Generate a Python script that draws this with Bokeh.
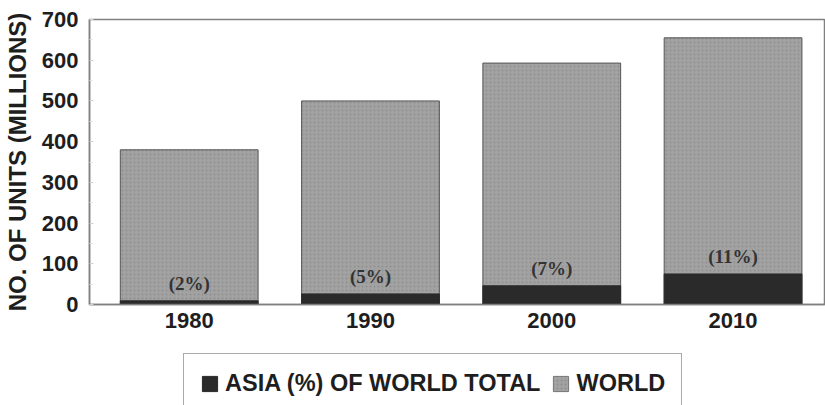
from bokeh.plotting import figure
from bokeh.models import ColumnDataSource, Legend, LegendItem, FixedTicker, Range1d
from bokeh.layouts import column
from bokeh.core.properties import value
from bokeh.embed import file_html
from bokeh.resources import INLINE

years = [1980, 1990, 2000, 2010]
world = [380, 500, 593, 655]
asia = [9, 26, 46, 75]
pct_labels = ["(2%)", "(5%)", "(7%)", "(11%)"]
y_ticks = [0, 100, 200, 300, 400, 500, 600, 700]
legend_labels = ["ASIA (%) OF WORLD TOTAL", "WORLD"]

WORLD_COLOR = "#a2a2a2"
ASIA_COLOR = "#2a2a2a"

src = ColumnDataSource(dict(x=years, world=world, asia=asia, lab=pct_labels))

p = figure(width=825, height=340, output_backend="svg", toolbar_location=None,
           x_range=Range1d(1974.5, 2015.1), y_range=Range1d(0, 700),
           min_border_left=86, min_border_top=19, min_border_right=0, min_border_bottom=36)

p.grid.visible = False
p.outline_line_color = "#808080"
p.outline_line_width = 1.5
p.background_fill_color = "white"
p.border_fill_color = "white"

rw = p.vbar(x="x", top="world", bottom=0, width=7.6, source=src,
            fill_color=WORLD_COLOR, line_color="#555555", line_width=1,
            hatch_pattern="dot", hatch_color="#7a7a7a", hatch_alpha=0.5, hatch_scale=4)
ra = p.vbar(x="x", top="asia", bottom=0, width=7.6, source=src,
            fill_color=ASIA_COLOR, line_color=ASIA_COLOR, line_width=1)

p.text(x="x", y="asia", text="lab", source=src, y_offset=-17,
       text_align="center", text_baseline="middle",
       text_font=value("Liberation Serif"), text_font_style="bold",
       text_font_size="19px", text_color="#333333")

# y axis
p.yaxis.ticker = FixedTicker(ticks=y_ticks, minor_ticks=[50, 150, 250, 350, 450, 550, 650])
p.yaxis.axis_label = "NO. OF UNITS (MILLIONS)"
p.yaxis.axis_label_text_font = "Liberation Sans"
p.yaxis.axis_label_text_font_style = "bold"
p.yaxis.axis_label_text_font_size = "24px"
p.yaxis.axis_label_text_color = "#1e1e1e"
p.yaxis.axis_label_standoff = 8
p.yaxis.major_label_text_font = "Liberation Sans"
p.yaxis.major_label_text_font_style = "bold"
p.yaxis.major_label_text_font_size = "22px"
p.yaxis.major_label_text_color = "#1e1e1e"
p.yaxis.major_label_standoff = 11
p.yaxis.major_tick_in = 4
p.yaxis.major_tick_out = 0
p.yaxis.minor_tick_in = 3
p.yaxis.minor_tick_out = 0
p.yaxis.major_tick_line_color = "#d0d0d0"
p.yaxis.minor_tick_line_color = "#e0e0e0"
p.yaxis.axis_line_color = "#808080"
p.yaxis.axis_line_width = 1.5

# x axis
p.xaxis.ticker = FixedTicker(ticks=years)
p.xaxis.major_label_overrides = {y: str(y) for y in years}
p.xaxis.major_label_text_font = "Liberation Sans"
p.xaxis.major_label_text_font_style = "bold"
p.xaxis.major_label_text_font_size = "22px"
p.xaxis.major_label_text_color = "#1e1e1e"
p.xaxis.major_label_standoff = 8
p.xaxis.major_tick_in = 0
p.xaxis.major_tick_out = 0
p.xaxis.minor_tick_line_color = None
p.xaxis.axis_line_color = "#808080"
p.xaxis.axis_line_width = 1.5

# legend panel (dummy renderers kept outside the visible range)
lf = figure(width=825, height=65, output_backend="svg", toolbar_location=None,
            x_range=Range1d(0, 1), y_range=Range1d(0, 1),
            min_border_left=0, min_border_right=0, min_border_top=0, min_border_bottom=0)
lf.axis.visible = False
lf.grid.visible = False
lf.outline_line_color = None
lf.border_fill_color = "white"
dummy = ColumnDataSource(dict(x=[-10], top=[-10]))
la = lf.vbar(x="x", top="top", bottom=-11, width=1, source=dummy,
             fill_color=ASIA_COLOR, line_color=ASIA_COLOR)
lw = lf.vbar(x="x", top="top", bottom=-11, width=1, source=dummy,
             fill_color=WORLD_COLOR, line_color="#777777",
             hatch_pattern="dot", hatch_color="#7a7a7a", hatch_alpha=0.5, hatch_scale=4)

legend = Legend(items=[LegendItem(label=legend_labels[0], renderers=[la]),
                       LegendItem(label=legend_labels[1], renderers=[lw])],
                orientation="horizontal", location=(94, -9),
                label_text_font="Liberation Sans", label_text_font_style="bold",
                label_text_font_size="23.5px", label_text_color="#1e1e1e",
                glyph_width=19, glyph_height=19, spacing=11, label_standoff=6,
                padding=16, margin=0, border_line_color="#555555", border_line_width=1.5,
                background_fill_alpha=1)
lf.add_layout(legend, "center")

layout = column(p, lf, spacing=0)
open("out.html", "w").write(file_html(layout, INLINE))
